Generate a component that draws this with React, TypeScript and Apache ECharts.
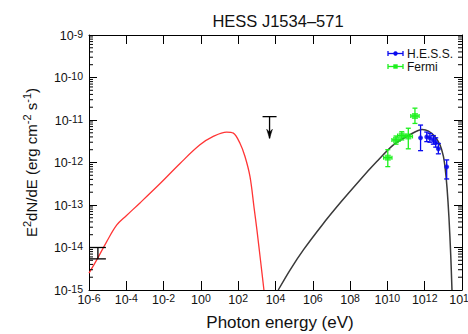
import React, { useEffect, useRef } from "react";
import * as echarts from "echarts";

const FONT = "'Liberation Sans', Arial, Helvetica, sans-serif";
const TEXT = "#111";

// Synchrotron model curve: photon energy (eV) vs E^2 dN/dE (erg cm^-2 s^-1)
const syncEnergy = [1e-6, 2.6e-6, 8.9e-6, 3.1e-5, 1e-4, 5.4e-4, 6.5e-3, 7.6e-2, 0.89, 4.6, 24, 55, 126, 229, 427, 708, 1020, 1585, 2400];
const syncFlux = [2.5e-15, 5.1e-15, 1.38e-14, 3.4e-14, 5.6e-14, 1.12e-13, 3.2e-13, 9.5e-13, 2.6e-12, 4.1e-12, 5.2e-12, 4.9e-12, 2.8e-12, 1.4e-12, 4.7e-13, 8.7e-14, 2.5e-14, 4.8e-15, 1e-15];

// Inverse-Compton model curve
const icEnergy = [1.4e4, 6.0e4, 3.2e5, 3.2e6, 3.2e7, 3.4e8, 2.7e9, 2.1e10, 1.6e11, 7.4e11, 1.6e12, 3.5e12, 6.6e12, 1e13, 1.26e13, 1.58e13, 2.0e13, 2.5e13, 2.9e13];
const icFlux = [1e-15, 2.95e-15, 8.9e-15, 3.4e-14, 1.17e-13, 3.9e-13, 1.05e-12, 2.6e-12, 4.5e-12, 6.0e-12, 5.5e-12, 4.1e-12, 2.6e-12, 1.41e-12, 7.1e-13, 2.5e-13, 5.0e-14, 6.3e-15, 1e-15];

// H.E.S.S. spectral points
const hessEnergy = [6.0e11, 1.29e12, 1.9e12, 2.9e12, 3.9e12, 5.4e12, 1.51e13];
const hessFlux = [3.8e-12, 4.0e-12, 3.8e-12, 3.4e-12, 2.95e-12, 2.1e-12, 7.9e-13];
const hessFluxLo = [1.9e-12, 3.1e-12, 3.0e-12, 2.7e-12, 2.3e-12, 1.6e-12, 4.1e-13];
const hessFluxHi = [7.6e-12, 5.2e-12, 4.8e-12, 4.3e-12, 3.8e-12, 2.8e-12, 1.15e-12];
const hessEnergyLo = [5.1e11, 1.1e12, 1.62e12, 2.47e12, 3.3e12, 4.6e12, 1.28e13];
const hessEnergyHi = [7.1e11, 1.52e12, 2.24e12, 3.4e12, 4.6e12, 6.4e12, 1.78e13];

// Fermi-LAT spectral points
const fermiEnergy = [1.05e10, 2.9e10, 5.9e10, 1.32e11, 3.0e11];
const fermiFlux = [1.3e-12, 3.4e-12, 4.3e-12, 4.1e-12, 1.24e-11];
const fermiFluxLo = [8.0e-13, 2.7e-12, 3.4e-12, 2.1e-12, 8.3e-12];
const fermiFluxHi = [2.0e-12, 4.2e-12, 5.3e-12, 6.4e-12, 1.9e-11];
const fermiEnergyLo = [6.3e9, 1.75e10, 3.55e10, 7.9e10, 1.8e11];
const fermiEnergyHi = [1.75e10, 4.8e10, 9.8e10, 2.2e11, 5.0e11];

// Low-energy flux range (no marker)
const lowEnergy = [3.0e-6];
const lowFluxLo = [5.4e-15];
const lowFluxHi = [1.0e-14];

// X-ray upper limit
const ulEnergy = [4800];
const ulFlux = [1.2e-11];
const ulArrowTip = [3.7e-12];

// Axis ranges and minor tick mantissas
const xRange = [1e-6, 1e14];
const yRange = [1e-15, 1e-9];
const yDecades = [-15, -14, -13, -12, -11, -10];
const minorMantissas = [2, 3, 4, 5, 6, 7, 8, 9];

const HESS_COLOR = "#0a0aee";
const FERMI_COLOR = "#1cf01c";

const tickRich = {
  b: { fontSize: 12.5, fontFamily: FONT, color: TEXT, lineHeight: 14, verticalAlign: "bottom" },
  s: { fontSize: 10.5, fontFamily: FONT, color: TEXT, lineHeight: 11, verticalAlign: "top", padding: [0, 0, 8, 0] },
};

const powLabel = (v: number) => {
  const e = Math.round(Math.log10(v));
  return `{b|10}{s|${e}}`;
};

function errorBars(color: string, capHalf: number, hCapHalf: number) {
  return (params: any, api: any) => {
    const e = api.value(0);
    const f = api.value(1);
    const flo = api.value(2);
    const fhi = api.value(3);
    const elo = api.value(4);
    const ehi = api.value(5);
    const c = api.coord([e, f]);
    const lo = api.coord([e, flo]);
    const hi = api.coord([e, fhi]);
    const style = { stroke: color, lineWidth: 1.3 };
    const children: any[] = [
      { type: "line", shape: { x1: c[0], y1: lo[1], x2: c[0], y2: hi[1] }, style },
      { type: "line", shape: { x1: c[0] - capHalf, y1: lo[1], x2: c[0] + capHalf, y2: lo[1] }, style },
      { type: "line", shape: { x1: c[0] - capHalf, y1: hi[1], x2: c[0] + capHalf, y2: hi[1] }, style },
    ];
    if (isFinite(elo) && isFinite(ehi) && elo > 0 && ehi > 0) {
      const l = api.coord([elo, f]);
      const r = api.coord([ehi, f]);
      children.push({ type: "line", shape: { x1: l[0], y1: c[1], x2: r[0], y2: c[1] }, style });
      if (hCapHalf > 0) {
        children.push({ type: "line", shape: { x1: l[0], y1: c[1] - hCapHalf, x2: l[0], y2: c[1] + hCapHalf }, style });
        children.push({ type: "line", shape: { x1: r[0], y1: c[1] - hCapHalf, x2: r[0], y2: c[1] + hCapHalf }, style });
      }
    }
    return { type: "group", children };
  };
}

export default function App() {
  const ref = useRef<HTMLDivElement>(null);

  useEffect(() => {
    if (!ref.current) return;
    const chart = echarts.init(ref.current, undefined, { renderer: "svg" });

    const minorValues: number[] = [];
    yDecades.forEach((d) => minorMantissas.forEach((m) => minorValues.push(m * Math.pow(10, d))));

    const axisLine = { show: true, lineStyle: { color: "#000", width: 1 } };

    const option: any = {
      animation: false,
      backgroundColor: "#fff",
      grid: { left: 89, top: 35, width: 373, height: 255, outerBoundsMode: "none", containLabel: false },
      xAxis: [
        {
          type: "log",
          logBase: 10,
          min: xRange[0],
          max: xRange[1],
          interval: 2,
          axisLine,
          axisTick: { show: true, inside: true, length: 9, lineStyle: { color: "#000" } },
          axisLabel: { show: true, margin: 2, formatter: powLabel, rich: tickRich, hideOverlap: false },
          splitLine: { show: false },
          minorTick: { show: false },
        },
        {
          type: "log",
          logBase: 10,
          position: "top",
          min: xRange[0],
          max: xRange[1],
          interval: 2,
          axisLine,
          axisTick: { show: true, inside: true, length: 9, lineStyle: { color: "#000" } },
          axisLabel: { show: false },
          splitLine: { show: false },
        },
      ],
      yAxis: [
        {
          type: "log",
          logBase: 10,
          min: yRange[0],
          max: yRange[1],
          interval: 1,
          axisLine,
          axisTick: { show: true, inside: true, length: 8, lineStyle: { color: "#000" } },
          axisLabel: { show: true, margin: 6, formatter: powLabel, rich: tickRich },
          splitLine: { show: false },
        },
        {
          type: "log",
          logBase: 10,
          position: "right",
          min: yRange[0],
          max: yRange[1],
          interval: 1,
          axisLine,
          axisTick: { show: true, inside: true, length: 8, lineStyle: { color: "#000" } },
          axisLabel: { show: false },
          splitLine: { show: false },
        },
      ],
      graphic: [
        {
          type: "text",
          x: 278,
          y: 21,
          style: {
            text: "HESS J1534\u2013571",
            font: `16.5px ${FONT}`,
            fill: TEXT,
            align: "center",
            verticalAlign: "middle",
          },
        },
        {
          type: "text",
          x: 280,
          y: 322,
          style: {
            text: "Photon energy (eV)",
            font: `17px ${FONT}`,
            fill: TEXT,
            align: "center",
            verticalAlign: "middle",
          },
        },
        {
          type: "text",
          x: 30,
          y: 162.5,
          rotation: Math.PI / 2,
          style: {
            text: "{m|E}{s|2}{m|dN/dE (erg cm}{s|-2}{m| s}{s|-1}{m|)}",
            align: "center",
            verticalAlign: "middle",
            rich: {
              m: { fontSize: 15, fontFamily: FONT, fill: TEXT, lineHeight: 17, verticalAlign: "bottom" },
              s: { fontSize: 11, fontFamily: FONT, fill: TEXT, lineHeight: 12, verticalAlign: "top", padding: [0, 0, 9, 0] },
            },
          },
        },
        {
          type: "group",
          children: [
            { type: "line", shape: { x1: 388, y1: 53.5, x2: 403, y2: 53.5 }, style: { stroke: HESS_COLOR, lineWidth: 1.3 } },
            { type: "line", shape: { x1: 388, y1: 51, x2: 388, y2: 56 }, style: { stroke: HESS_COLOR, lineWidth: 1.3 } },
            { type: "line", shape: { x1: 403, y1: 51, x2: 403, y2: 56 }, style: { stroke: HESS_COLOR, lineWidth: 1.3 } },
            { type: "circle", shape: { cx: 395.5, cy: 53.5, r: 2.2 }, style: { fill: HESS_COLOR } },
            {
              type: "text",
              x: 407,
              y: 53.5,
              style: { text: "H.E.S.S.", font: `12px ${FONT}`, lineHeight: 12, fill: TEXT, verticalAlign: "middle" },
            },
            { type: "line", shape: { x1: 388, y1: 66.5, x2: 403, y2: 66.5 }, style: { stroke: FERMI_COLOR, lineWidth: 1.3 } },
            { type: "line", shape: { x1: 388, y1: 64, x2: 388, y2: 69 }, style: { stroke: FERMI_COLOR, lineWidth: 1.3 } },
            { type: "line", shape: { x1: 403, y1: 64, x2: 403, y2: 69 }, style: { stroke: FERMI_COLOR, lineWidth: 1.3 } },
            { type: "rect", shape: { x: 393.3, y: 64.3, width: 4.4, height: 4.4 }, style: { fill: FERMI_COLOR } },
            {
              type: "text",
              x: 407,
              y: 66.5,
              style: { text: "Fermi", font: `12px ${FONT}`, lineHeight: 12, fill: TEXT, verticalAlign: "middle" },
            },
          ],
        },
      ],
      series: [
        {
          type: "custom",
          name: "minor ticks",
          silent: true,
          z: 5,
          data: minorValues.map((v) => [1, v]),
          encode: { x: 0, y: 1 },
          renderItem: (params: any, api: any) => {
            const cs = params.coordSys;
            const y = api.coord([1, api.value(1)])[1];
            const style = { stroke: "#000", lineWidth: 1 };
            return {
              type: "group",
              children: [
                { type: "line", shape: { x1: cs.x, y1: y, x2: cs.x + 4, y2: y }, style },
                { type: "line", shape: { x1: cs.x + cs.width - 4, y1: y, x2: cs.x + cs.width, y2: y }, style },
              ],
            };
          },
        },
        {
          type: "line",
          name: "synchrotron",
          data: syncEnergy.map((e, i) => [e, syncFlux[i]]),
          showSymbol: false,
          smooth: 0.35,
          lineStyle: { color: "#ff3535", width: 1.3 },
          z: 2,
        },
        {
          type: "line",
          name: "inverse Compton",
          data: icEnergy.map((e, i) => [e, icFlux[i]]),
          showSymbol: false,
          smooth: 0.3,
          lineStyle: { color: "#3a3a3a", width: 1.5 },
          z: 2,
        },
        {
          type: "custom",
          name: "low-energy range",
          data: lowEnergy.map((e, i) => [e, lowFluxLo[i], lowFluxLo[i], lowFluxHi[i]]),
          encode: { x: 0, y: 1 },
          renderItem: errorBars("#000", 8, 0),
          z: 3,
        },
        {
          type: "custom",
          name: "upper limit",
          data: ulEnergy.map((e, i) => [e, ulFlux[i], ulArrowTip[i]]),
          encode: { x: 0, y: 1 },
          z: 3,
          renderItem: (params: any, api: any) => {
            const top = api.coord([api.value(0), api.value(1)]);
            const tip = api.coord([api.value(0), api.value(2)]);
            const style = { stroke: "#000", lineWidth: 1.3, fill: "none" };
            return {
              type: "group",
              children: [
                { type: "line", shape: { x1: top[0] - 7, y1: top[1], x2: top[0] + 7, y2: top[1] }, style },
                { type: "line", shape: { x1: top[0], y1: top[1], x2: tip[0], y2: tip[1] }, style },
                {
                  type: "polygon",
                  shape: { points: [[tip[0] - 2.8, tip[1] - 9], [tip[0], tip[1]], [tip[0] + 2.8, tip[1] - 9], [tip[0], tip[1] - 6]] },
                  style: { fill: "#000", stroke: "#000", lineWidth: 0.6 },
                },
              ],
            };
          },
        },
        {
          type: "custom",
          name: "Fermi errors",
          data: fermiEnergy.map((e, i) => [e, fermiFlux[i], fermiFluxLo[i], fermiFluxHi[i], fermiEnergyLo[i], fermiEnergyHi[i]]),
          encode: { x: 0, y: 1 },
          renderItem: errorBars(FERMI_COLOR, 2.5, 2),
          z: 4,
        },
        {
          type: "custom",
          name: "H.E.S.S. errors",
          data: hessEnergy.map((e, i) => [e, hessFlux[i], hessFluxLo[i], hessFluxHi[i], hessEnergyLo[i], hessEnergyHi[i]]),
          encode: { x: 0, y: 1 },
          renderItem: errorBars(HESS_COLOR, 2.5, 0),
          z: 4,
        },
        {
          type: "scatter",
          name: "Fermi",
          data: fermiEnergy.map((e, i) => [e, fermiFlux[i]]),
          symbol: "rect",
          symbolSize: 6,
          itemStyle: { color: FERMI_COLOR },
          z: 6,
        },
        {
          type: "scatter",
          name: "H.E.S.S.",
          data: hessEnergy.map((e, i) => [e, hessFlux[i]]),
          symbol: "circle",
          symbolSize: 5,
          itemStyle: { color: HESS_COLOR },
          z: 6,
        },
      ],
    };

    chart.setOption(option);
    return () => chart.dispose();
  }, []);

  return (
    <div
      ref={ref}
      style={{ position: "absolute", left: 0, top: 0, width: 468, height: 334, background: "#fff" }}
    />
  );
}
